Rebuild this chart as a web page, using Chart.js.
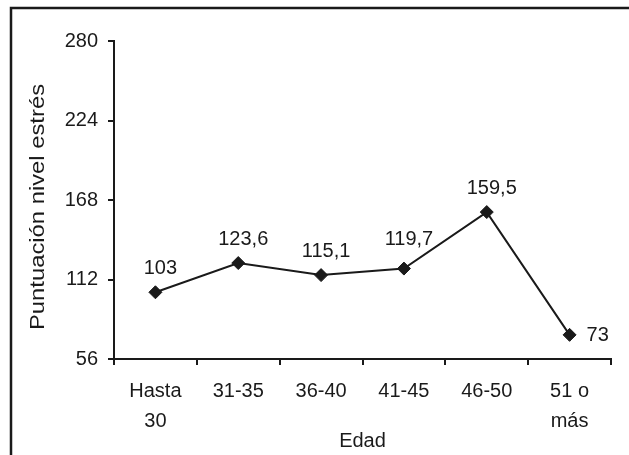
<!DOCTYPE html>
<html>
<head>
<meta charset="utf-8">
<script src="https://cdn.jsdelivr.net/npm/chart.js@4/dist/chart.umd.min.js"></script>
<style>
  html, body { margin: 0; padding: 0; background: #fff; }
  #wrap { width: 629px; height: 455px; position: relative; }
</style>
</head>
<body>
<div id="wrap"><canvas id="c" width="629" height="455"></canvas></div>
<script>
// Age groups and mean stress score per group
const categories = [["Hasta", "30"], "31-35", "36-40", "41-45", "46-50", ["51 o", "más"]];
const stressScores = [103, 123.6, 115.1, 119.7, 159.5, 73];
const valueLabels = ["103", "123,6", "115,1", "119,7", "159,5", "73"];
const yTicks = [56, 112, 168, 224, 280];
const yTitle = 'Puntuación nivel estrés';

const ink = '#1a1a1a';
const FONT = "'Liberation Sans', Arial, sans-serif";

// Frame along the left and top edges of the figure
const framePlugin = {
  id: 'frame',
  beforeDraw(chart) {
    const ctx = chart.ctx;
    ctx.save();
    ctx.fillStyle = '#fff';
    ctx.fillRect(0, 0, chart.width, chart.height);
    ctx.strokeStyle = ink;
    ctx.lineWidth = 2.5;
    ctx.beginPath();
    ctx.moveTo(11, chart.height);
    ctx.lineTo(11, 8);
    ctx.lineTo(chart.width, 8);
    ctx.stroke();
    ctx.restore();
  }
};

// Vertical axis title, slightly stretched along its length
const yTitlePlugin = {
  id: 'yTitle',
  afterDraw(chart) {
    const ctx = chart.ctx;
    const area = chart.chartArea;
    ctx.save();
    ctx.fillStyle = ink;
    ctx.font = '20px ' + FONT;
    ctx.translate(38, (area.top + area.bottom) / 2 + 7);
    ctx.rotate(-Math.PI / 2);
    ctx.scale(1.19, 1);
    ctx.textAlign = 'center';
    ctx.textBaseline = 'middle';
    ctx.fillText(yTitle, 0, 0);
    ctx.restore();
  }
};

// Value labels next to each point
const labelLift = [0, 0, 0, 6, 0, 0];
const valueLabelPlugin = {
  id: 'valueLabels',
  afterDatasetsDraw(chart) {
    const ctx = chart.ctx;
    const meta = chart.getDatasetMeta(0);
    ctx.save();
    ctx.fillStyle = ink;
    ctx.font = '20px ' + FONT;
    meta.data.forEach((pt, i) => {
      if (i === meta.data.length - 1) {
        ctx.textAlign = 'left';
        ctx.textBaseline = 'middle';
        ctx.fillText(valueLabels[i], pt.x + 17, pt.y + 1);
      } else {
        ctx.textAlign = 'center';
        ctx.textBaseline = 'alphabetic';
        ctx.fillText(valueLabels[i], pt.x + 5, pt.y - 18 - labelLift[i]);
      }
    });
    ctx.restore();
  }
};

new Chart(document.getElementById('c'), {
  type: 'line',
  data: {
    labels: categories,
    datasets: [{
      data: stressScores,
      borderColor: ink,
      borderWidth: 2,
      backgroundColor: ink,
      pointStyle: 'rectRot',
      pointRadius: 6.5,
      pointBorderWidth: 1,
      pointBackgroundColor: ink,
      pointBorderColor: ink,
      tension: 0,
      fill: false
    }]
  },
  options: {
    responsive: false,
    animation: false,
    events: [],
    layout: { padding: { top: 41, right: 18, bottom: 0, left: 0 } },
    plugins: { legend: { display: false }, tooltip: { enabled: false } },
    scales: {
      x: {
        offset: true,
        grid: { offset: true, drawOnChartArea: false, drawTicks: true, tickLength: 6, color: ink, lineWidth: 2 },
        border: { display: true, color: ink, width: 2 },
        ticks: { color: ink, font: { family: FONT, size: 20, lineHeight: 1.5 }, padding: 11, maxRotation: 0, autoSkip: false },
        title: { display: true, text: 'Edad', color: ink, font: { family: FONT, size: 20 }, padding: { top: 0, bottom: 2 } },
        afterFit(scale) { scale.height = 96; }
      },
      y: {
        min: 56,
        max: 280,
        afterBuildTicks(scale) { scale.ticks = yTicks.map(v => ({ value: v })); },
        grid: { drawOnChartArea: false, drawTicks: true, tickLength: 6, color: ink, lineWidth: 2 },
        border: { display: true, color: ink, width: 2 },
        ticks: { color: ink, font: { family: FONT, size: 20 }, padding: 10 },
        afterFit(scale) { scale.width = 114; }
      }
    }
  },
  plugins: [framePlugin, yTitlePlugin, valueLabelPlugin]
});
</script>
</body>
</html>
